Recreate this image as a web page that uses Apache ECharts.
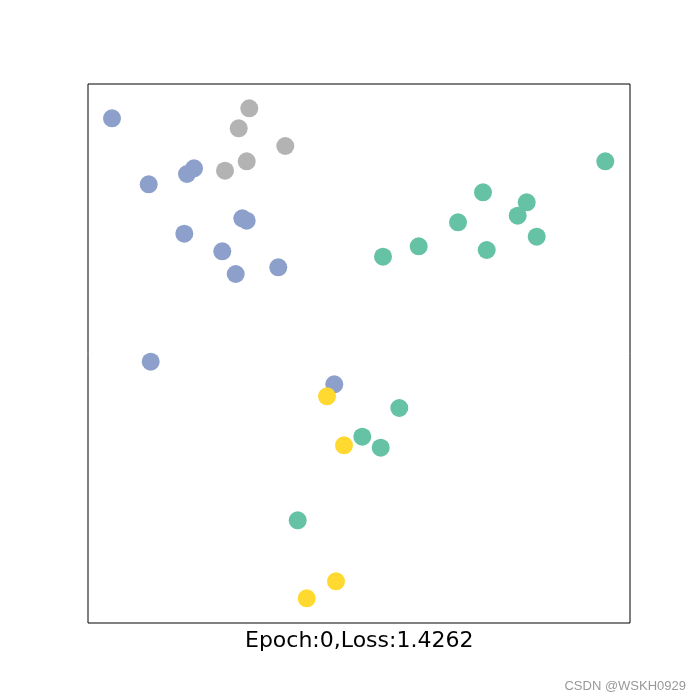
<!DOCTYPE html>
<html><head><meta charset="utf-8">
<script src="https://cdn.jsdelivr.net/npm/echarts@6/dist/echarts.min.js"></script>
<style>html,body{margin:0;padding:0;background:#fff}#c{width:700px;height:700px}</style>
</head><body><div id="c"></div>
<script>
var blueX = [112, 148.7, 187, 194, 242.3, 246.7, 184.3, 222.3, 235.7, 278.3, 150.7, 334.3];
var blueY = [118.3, 184.3, 174, 168.3, 218.3, 220.7, 233.7, 251.3, 274, 267.3, 361.7, 384.3];
var grayX = [249.3, 238.7, 285.3, 246.7, 225];
var grayY = [108.3, 128.3, 146, 161.3, 170.7];
var greenX = [605.3, 483, 526.7, 517.7, 458, 536.7, 418.7, 486.7, 383, 399.3, 362.3, 380.7, 297.7];
var greenY = [161.3, 192.3, 202.3, 215.7, 222.3, 236.7, 246.3, 250, 256.7, 408, 436.7, 447.7, 520.3];
var yellowX = [327, 344, 336, 306.7];
var yellowY = [396.3, 445.3, 581.3, 598.3];
var titleText = 'Epoch:0,Loss:1.4262';
var watermark = 'CSDN @WSKH0929';

function pts(xs, ys){ return xs.map(function(x,i){ return [x, ys[i]]; }); }
function ser(xs, ys, color){
  return {type:'scatter', data: pts(xs, ys), symbolSize: 18,
    itemStyle:{color: color, opacity: 1}, emphasis:{disabled:true}, animation:false};
}
var chart = echarts.init(document.getElementById('c'), null, {renderer:'canvas'});
chart.setOption({
  animation:false,
  backgroundColor:'#fff',
  grid:{left:88, top:84, width:542, height:539, show:true, borderColor:'#000', borderWidth:1, backgroundColor:'transparent'},
  xAxis:{type:'value', min:88, max:630, show:true, axisLine:{show:false}, axisTick:{show:false}, axisLabel:{show:false}, splitLine:{show:false}},
  yAxis:{type:'value', min:84, max:623, inverse:true, axisLine:{show:false}, axisTick:{show:false}, axisLabel:{show:false}, splitLine:{show:false}},
  title:[
    {text:titleText, left:245, top:630, padding:0, textStyle:{fontFamily:'DejaVu Sans', fontSize:22, fontWeight:'normal', color:'#000'}},
    {text:watermark, right:14, top:680, padding:0, textStyle:{fontFamily:'Liberation Sans', fontSize:13, fontWeight:'normal', color:'#999'}}
  ],
  series:[
    ser(greenX, greenY, '#66c2a5'),
    ser(grayX, grayY, '#b3b3b3'),
    ser(blueX, blueY, '#8da0cb'),
    ser(yellowX, yellowY, '#ffd92f')
  ]
});
</script></body></html>
